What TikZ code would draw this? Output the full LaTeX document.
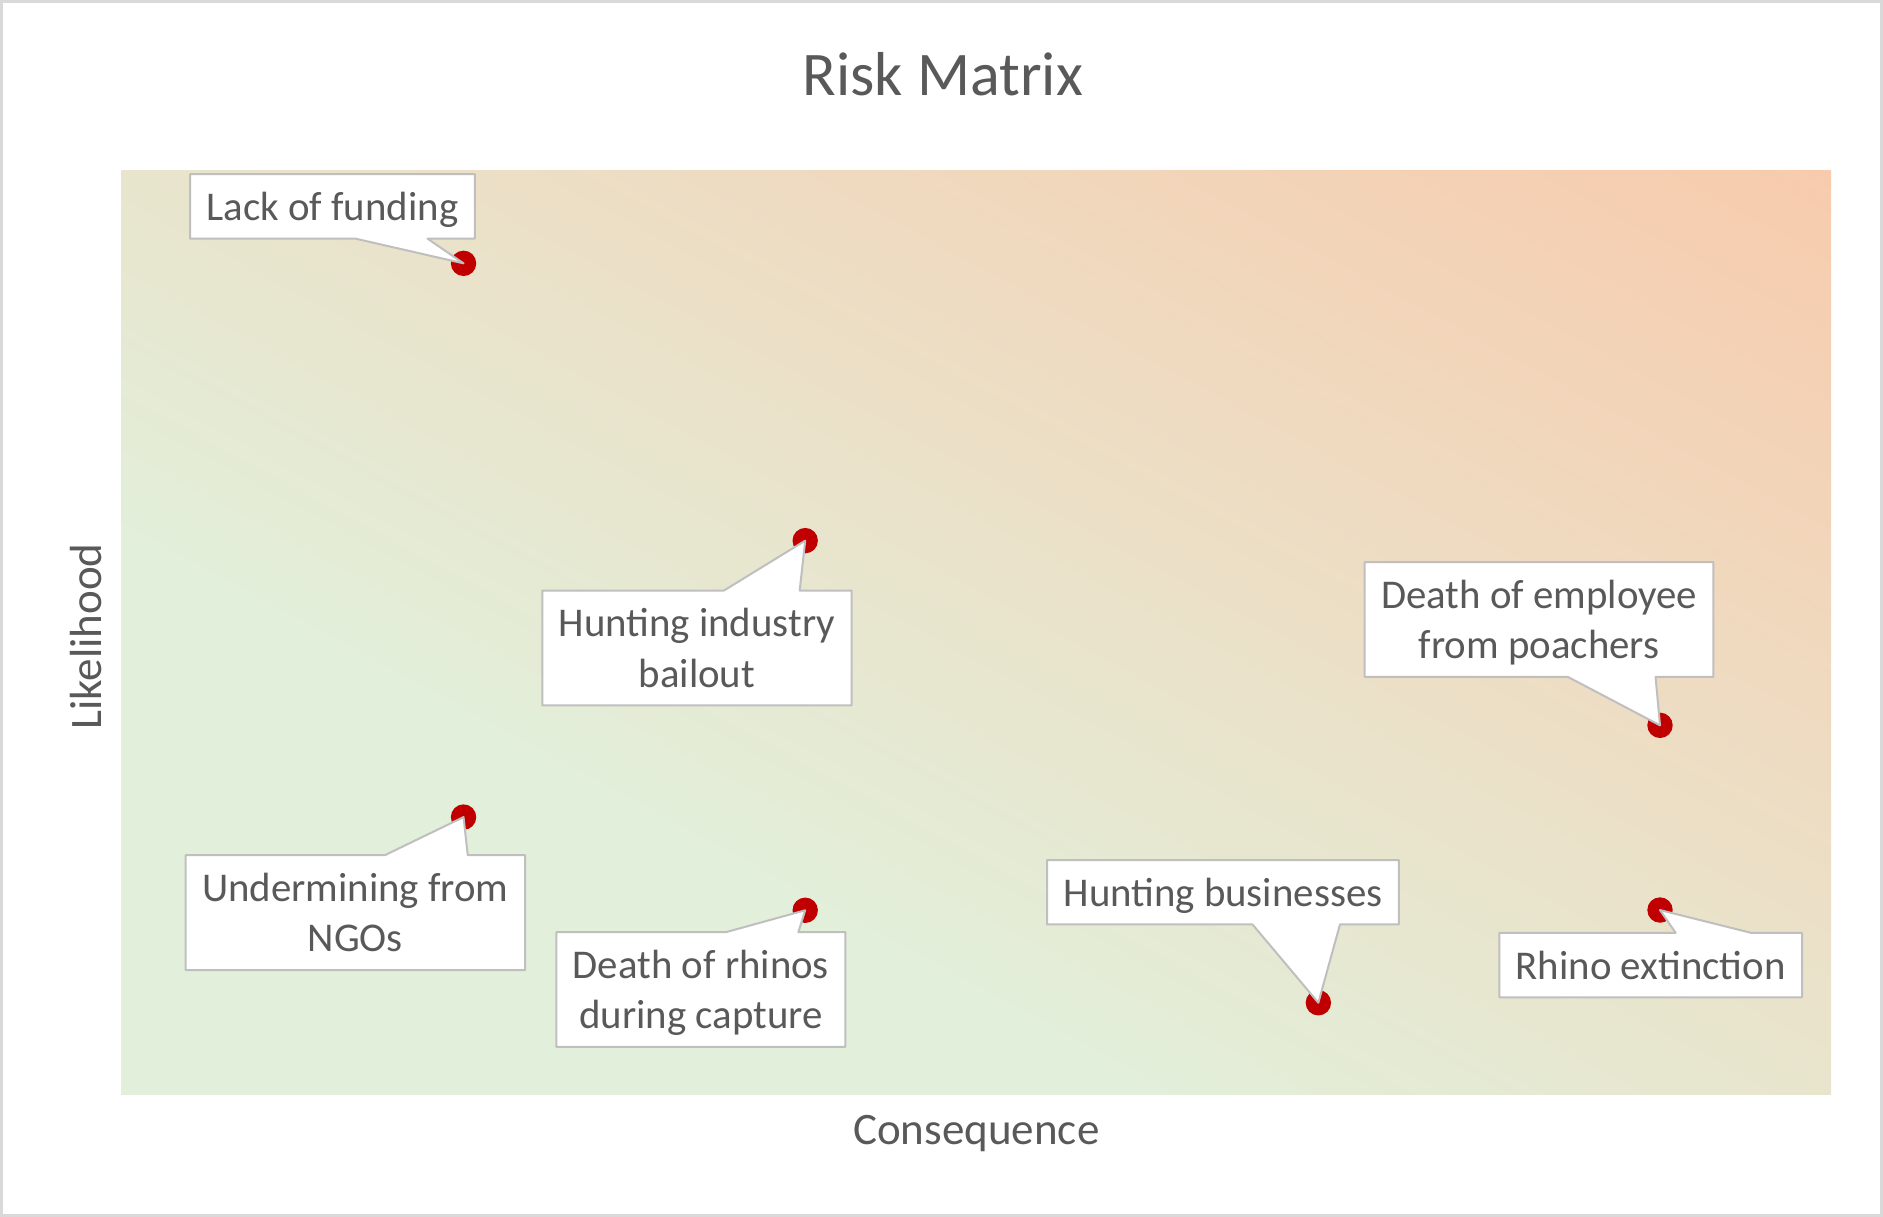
\documentclass[tikz,border=0pt]{standalone}
\usepackage{fontspec}
\setmainfont{Carlito}
\usepackage{tikz}
\usetikzlibrary{backgrounds}

\definecolor{txtgray}{HTML}{595959}
\definecolor{boxgray}{HTML}{BFBFBF}
\definecolor{framegray}{HTML}{D9D9D9}
\definecolor{riskred}{HTML}{C00000}
\definecolor{lowgreen}{HTML}{E2EFDA}
\definecolor{highorange}{HTML}{F8CBAD}

\pgfdeclarehorizontalshading{riskgrad}{100bp}{color(0bp)=(lowgreen); color(40bp)=(lowgreen); color(75bp)=(highorange); color(100bp)=(highorange)}

\newcommand{\lblstrut}{\rule[-4.4pt]{0pt}{22.8pt}}

\begin{document}
\begin{tikzpicture}[x=0.6pt,y=-0.6pt,
	risklabel/.style={font=\fontsize{20.4}{25.2}\selectfont, text=txtgray, align=center, inner xsep=8pt, inner ysep=4.5pt},
	riskdot/.style={circle, fill=riskred, inner sep=0pt, minimum size=12.7pt},
	callout/.style={draw=boxgray, line width=1pt, fill=white, line join=round}]
	\useasboundingbox (0,0) rectangle (1568,1013.4);

		\node [font=\fontsize{31}{37}\selectfont, text=txtgray, anchor=base] (TITLE) at (785.1,79.7) {Risk Matrix};
		\node [font=\fontsize{22.5}{27}\selectfont, text=txtgray, anchor=base] (XAXIS) at (813,952.9) {Consequence};
		\node [font=\fontsize{22.5}{27}\selectfont, text=txtgray, anchor=base, rotate=90] (YAXIS) at (84.7,529.9) {Likelihood};

		\node [risklabel] (LACK) at (276.8,171.9) {\lblstrut Lack of funding};
		\node [risklabel] (BAILOUT) at (580.3,539.6) {\lblstrut Hunting industry\\\lblstrut bailout};
		\node [risklabel] (EMPLOYEE) at (1281.6,515.9) {\lblstrut Death of employee\\\lblstrut from poachers};
		\node [risklabel] (NGOS) at (295.9,759.9) {\lblstrut Undermining from\\\lblstrut NGOs};
		\node [risklabel] (CAPTURE) at (583.7,824) {\lblstrut Death of rhinos\\\lblstrut during capture};
		\node [risklabel] (BUSINESS) at (1018.4,743) {\lblstrut Hunting businesses};
		\node [risklabel] (EXTINCT) at (1374.5,803.6) {\lblstrut Rhino extinction};

	\begin{scope}[on background layer]
		\draw [framegray, line width=1.35pt] (1.1,1.1) rectangle (1566.9,1012.3);

		% plot area, gradient running corner to corner
		\begin{scope}
			\clip (100.8,142) rectangle (1524.7,911.8);
			\begin{scope}[x=1pt, y=1pt, transform canvas={cm={8.5434,4.6188,4.6188,-2.4971,(60.48pt,-547.08pt)}}]
				\shade [shading=riskgrad] (0,-100) rectangle (100,100);
			\end{scope}
		\end{scope}

		\node [riskdot] (PLACK) at (386,219.3) {};
		\node [riskdot] (PBAILOUT) at (670.5,450.2) {};
		\node [riskdot] (PEMPLOYEE) at (1382.3,604) {};
		\node [riskdot] (PNGOS) at (386,680.4) {};
		\node [riskdot] (PCAPTURE) at (670.5,758) {};
		\node [riskdot] (PBUSINESS) at (1097.8,835) {};
		\node [riskdot] (PEXTINCT) at (1382.3,757.8) {};

		% callouts pointing down
		\draw [callout] (LACK.south west) -- (LACK.north west) -- (LACK.north east) -- (LACK.south east) -- (356,0 |- LACK.south) -- (PLACK.center) -- (296,0 |- LACK.south) -- cycle;
		\draw [callout] (EMPLOYEE.south west) -- (EMPLOYEE.north west) -- (EMPLOYEE.north east) -- (EMPLOYEE.south east) -- (1378.6,0 |- EMPLOYEE.south) -- (PEMPLOYEE.center) -- (1305.7,0 |- EMPLOYEE.south) -- cycle;
		\draw [callout] (BUSINESS.south west) -- (BUSINESS.north west) -- (BUSINESS.north east) -- (BUSINESS.south east) -- (1115.8,0 |- BUSINESS.south) -- (PBUSINESS.center) -- (1043,0 |- BUSINESS.south) -- cycle;

		% callouts pointing up
		\draw [callout] (BAILOUT.south west) -- (BAILOUT.north west) -- (602.8,0 |- BAILOUT.north) -- (PBAILOUT.center) -- (665.9,0 |- BAILOUT.north) -- (BAILOUT.north east) -- (BAILOUT.south east) -- cycle;
		\draw [callout] (NGOS.south west) -- (NGOS.north west) -- (320.6,0 |- NGOS.north) -- (PNGOS.center) -- (389.5,0 |- NGOS.north) -- (NGOS.north east) -- (NGOS.south east) -- cycle;
		\draw [callout] (CAPTURE.south west) -- (CAPTURE.north west) -- (604.7,0 |- CAPTURE.north) -- (PCAPTURE.center) -- (664.8,0 |- CAPTURE.north) -- (CAPTURE.north east) -- (CAPTURE.south east) -- cycle;
		\draw [callout] (EXTINCT.south west) -- (EXTINCT.north west) -- (1395.3,0 |- EXTINCT.north) -- (PEXTINCT.center) -- (1458,0 |- EXTINCT.north) -- (EXTINCT.north east) -- (EXTINCT.south east) -- cycle;
	\end{scope}
\end{tikzpicture}
\end{document}
